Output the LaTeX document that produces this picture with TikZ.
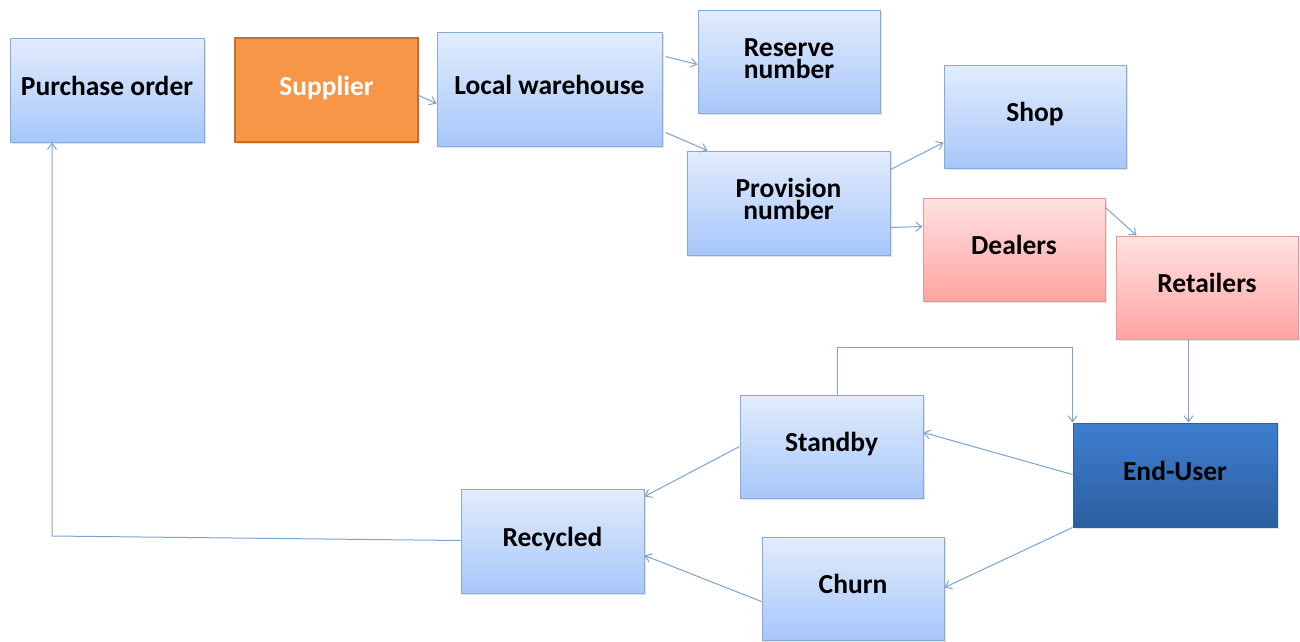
\documentclass[tikz,border=0pt]{standalone}
\usepackage{fontspec}
\setmainfont{Carlito}
\usetikzlibrary{arrows.meta,shadows}

\definecolor{lineblue}{HTML}{7BA3D6}
\definecolor{bluetop}{HTML}{E2ECFD}
\definecolor{bluebot}{HTML}{A7C7FA}
\definecolor{blueedge}{HTML}{86AAD9}
\definecolor{redtop}{HTML}{FFE2E2}
\definecolor{redbot}{HTML}{FFA3A1}
\definecolor{rededge}{HTML}{E49A98}
\definecolor{orangefill}{HTML}{F79646}
\definecolor{orangeedge}{HTML}{C4702D}
\definecolor{darktop}{HTML}{3E7ED0}
\definecolor{darkbot}{HTML}{2B5E9F}
\definecolor{darkedge}{HTML}{30609E}

\tikzset{
  box/.style={rectangle, inner sep=0pt, align=center, text=black,
    font=\fontsize{27.5}{22}\selectfont\bfseries,
    text height=18pt, text depth=8pt,
    drop shadow={opacity=0.22, shadow xshift=1.5pt, shadow yshift=-1.5pt}},
  twoline/.style={text height=40pt, text depth=7pt},
  bluebox/.style={box, draw=blueedge, line width=1pt, top color=bluetop, bottom color=bluebot},
  redbox/.style={box, draw=rededge, line width=1pt, top color=redtop, bottom color=redbot},
  orangebox/.style={box, draw=orangeedge, line width=1.2pt, fill=orangefill, text=white},
  darkbox/.style={box, draw=darkedge, line width=1pt, top color=darktop, bottom color=darkbot},
  flow/.style={draw=lineblue, line width=1pt, -{Straight Barb[length=6pt,width=9pt,line width=1pt]}},
  sz/.style n args={2}{minimum width=#1pt, minimum height=#2pt}
}

\begin{document}
\begin{tikzpicture}[x=1pt,y=-1pt]
\useasboundingbox (0,0) rectangle (1300,641);

% boxes
\node[bluebox, sz={194}{104}] (po) at (107,90) {Purchase order};
\node[orangebox, sz={183}{104}] (sup) at (326.5,90) {Supplier};
\node[bluebox, sz={225}{114}] (lw) at (549.5,89) {Local warehouse};
\node[bluebox, twoline, sz={182}{103}] (res) at (789,61.5) {Reserve\\number};
\node[bluebox, twoline, sz={203}{104}] (prov) at (788.5,203) {Provision\\number};
\node[bluebox, sz={182}{103}] (shop) at (1035,116.5) {Shop};
\node[redbox, sz={182}{103}] (deal) at (1014,249.5) {Dealers};
\node[redbox, sz={182}{103}] (ret) at (1207,287.5) {Retailers};
\node[bluebox, sz={183}{103}] (sb) at (831.5,446.5) {Standby};
\node[darkbox, sz={204}{104}] (eu) at (1175,475) {End-User};
\node[bluebox, sz={183}{104}] (rec) at (552.5,541) {Recycled};
\node[bluebox, sz={182}{103}] (churn) at (853,588.5) {Churn};

% connectors
\draw[flow] ([yshift=-58pt]sup.north east) -- ([yshift=-72pt]lw.north west);
\draw[flow] ([xshift=3pt,yshift=-25pt]lw.north east) -- ([yshift=-55pt]res.north west);
\draw[flow] ([xshift=3pt,yshift=14pt]lw.south east) -- ([xshift=21pt]prov.north west);
\draw[flow] ([yshift=-19pt]prov.north east) -- ([yshift=26pt]shop.south west);
\draw[flow] ([yshift=28pt]prov.south east) -- ([yshift=-29pt]deal.north west);
\draw[flow] ([yshift=-10pt]deal.north east) -- ([xshift=21pt]ret.north west);
\draw[flow] ([xshift=73pt]ret.south west) -- ([xshift=73pt]ret.south west |- eu.north);
\draw[flow] ([xshift=98pt]sb.north west) -- ++(0,-47) -| (eu.north west);
\draw[flow] ([yshift=-52pt]eu.north west) -- ([yshift=-38pt]sb.north east);
\draw[flow] (eu.south west) -- ([yshift=-51pt]churn.north east);
\draw[flow] ([yshift=-52pt]sb.north west) -- ([yshift=-8pt]rec.north east);
\draw[flow] ([yshift=-65pt]churn.north west) -- ([yshift=-67pt]rec.north east);
\coordinate (bend) at (52,536);
\draw[flow] ([yshift=-52pt]rec.north west) -- (bend) -- (bend |- po.south);
\end{tikzpicture}
\end{document}
